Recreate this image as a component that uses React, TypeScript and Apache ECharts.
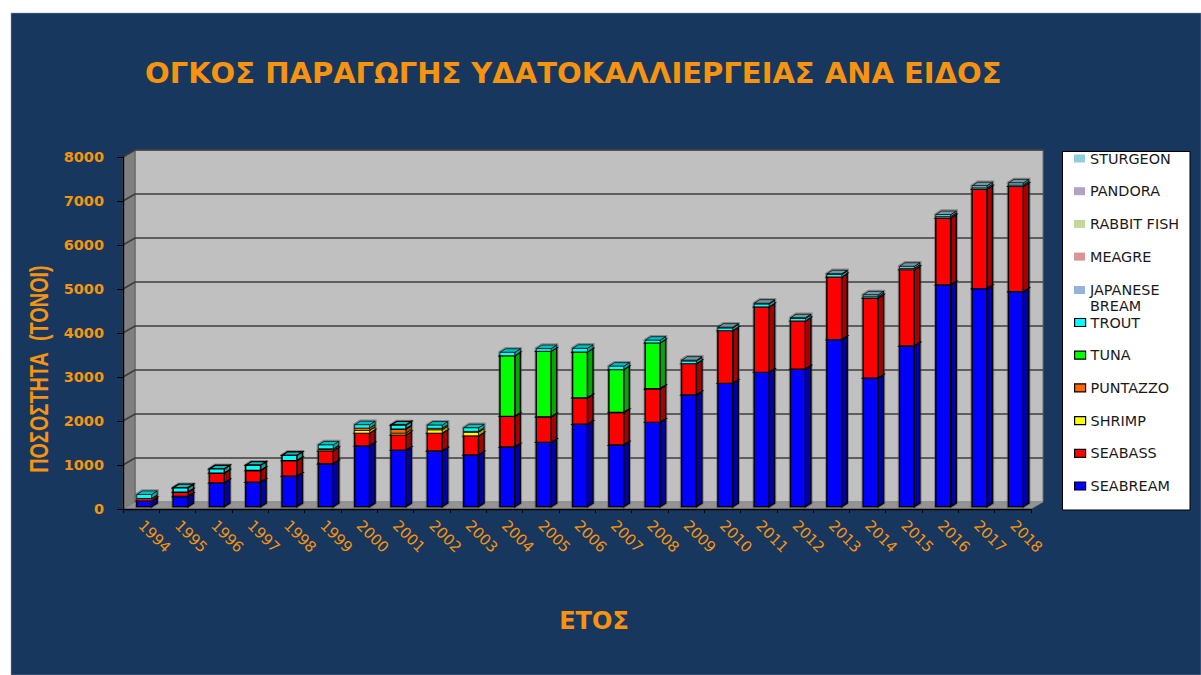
import React, { useEffect, useRef } from "react";
import * as echarts from "echarts";

const years = ["1994","1995","1996","1997","1998","1999","2000","2001","2002","2003","2004","2005","2006","2007","2008","2009","2010","2011","2012","2013","2014","2015","2016","2017","2018"];
const seabream = [130,230,540,555,690,975,1380,1280,1265,1175,1355,1460,1870,1400,1915,2540,2800,3050,3125,3795,2920,3650,5040,4955,4885];
const seabass = [55,100,220,265,355,295,290,350,405,435,695,580,600,740,765,710,1200,1490,1095,1425,1820,1735,1520,2260,2395];
const shrimp = [0,0,0,0,0,30,60,40,75,80,0,0,0,0,0,0,0,0,0,0,0,0,0,0,0];
const puntazzo = [0,0,0,0,0,15,55,90,35,20,0,0,0,0,0,0,0,0,0,0,0,0,0,0,0];
const tuna = [0,0,0,0,0,0,0,0,0,0,1380,1490,1045,975,1040,0,0,0,0,0,0,0,0,0,0];
const trout = [90,100,97,120,120,85,75,95,70,80,75,60,80,75,60,60,60,65,55,55,30,30,30,30,30];
const japaneseBream = new Array(25).fill(0);
const meagre = new Array(25).fill(0);
const rabbitFish = new Array(25).fill(0);
const pandora = new Array(25).fill(0);
const sturgeon = [0,0,0,0,0,0,0,0,0,0,0,0,0,0,0,15,15,15,15,15,40,45,45,45,45];
const yTicks = [0,1000,2000,3000,4000,5000,6000,7000,8000];

const speciesList = [
  { name: "SEABREAM", values: seabream, color: "#0000FF", side: "#0000A8", top: "#0000C0", strong: true },
  { name: "SEABASS", values: seabass, color: "#FF0000", side: "#A80000", top: "#C00000", strong: true },
  { name: "SHRIMP", values: shrimp, color: "#FFFF00", side: "#A8A800", top: "#C0C000", strong: true },
  { name: "PUNTAZZO", values: puntazzo, color: "#FF6600", side: "#A84400", top: "#C04C00", strong: true },
  { name: "TUNA", values: tuna, color: "#00FF00", side: "#00A800", top: "#00C000", strong: true },
  { name: "TROUT", values: trout, color: "#00FFFF", side: "#00A8A8", top: "#00BFBF", strong: true },
  { name: "JAPANESE BREAM", values: japaneseBream, color: "#95B3D7", side: "#627690", top: "#708AA2", strong: false },
  { name: "MEAGRE", values: meagre, color: "#D99694", side: "#8F6362", top: "#A3716F", strong: false },
  { name: "RABBIT FISH", values: rabbitFish, color: "#C3D69B", side: "#818D66", top: "#92A174", strong: false },
  { name: "PANDORA", values: pandora, color: "#B3A2C7", side: "#766B83", top: "#867A95", strong: false },
  { name: "STURGEON", values: sturgeon, color: "#92CDDC", side: "#608791", top: "#6E9AA6", strong: false },
];

const ORANGE = "#F7930F";
const DEPTH_X = 12;
const DEPTH_Y = -7;
const BAR_OFF_X = 3;
const BAR_OFF_Y = -2.4;
const BAR_HALF = 7.4;
const BAR_DX = 5.6;
const BAR_DY = -3.6;
const STROKE = "#000000";
const LINE = 1.4;
const THIN_LINE = 0.7;

const poly = (points: number[][], fill: string, stroke = STROKE, lineWidth = LINE) => ({
  type: "polygon",
  shape: { points },
  style: { fill, stroke, lineWidth, lineJoin: "miter" },
});

const renderWalls = (params: any, api: any) => {
  const cs = params.coordSys;
  const tick = api.value(1);
  const y = api.coord([0, tick])[1];
  const l = cs.x, r = cs.x + cs.width, b = cs.y + cs.height, t = cs.y;
  const children: any[] = [];
  if (params.dataIndex === 0) {
    children.push(poly([[l + DEPTH_X, t + DEPTH_Y], [r + DEPTH_X, t + DEPTH_Y], [r + DEPTH_X, b + DEPTH_Y], [l + DEPTH_X, b + DEPTH_Y]], "#C0C0C0", "#6e6e6e", 1));
    children.push(poly([[l, t], [l + DEPTH_X, t + DEPTH_Y], [l + DEPTH_X, b + DEPTH_Y], [l, b]], "#808080", "#606060", 1));
    children.push(poly([[l, b], [l + DEPTH_X, b + DEPTH_Y], [r + DEPTH_X, b + DEPTH_Y], [r, b]], "#949494", "#8a8a8a", 0.5));
  }
  if (tick > 0) {
    children.push({
      type: "polyline",
      shape: { points: [[l, y], [l + DEPTH_X, y + DEPTH_Y], [r + DEPTH_X, y + DEPTH_Y]] },
      style: { fill: "none", stroke: "#3c3c3c", lineWidth: 1.6 },
    });
  }
  return { type: "group", children };
};

const boxFaces = (x: number, yLow: number, yHigh: number, sp: { color: string; side: string; top: string }) => {
  const l = x - BAR_HALF + BAR_OFF_X;
  const r = x + BAR_HALF + BAR_OFF_X;
  const b = yLow + BAR_OFF_Y;
  const t = yHigh + BAR_OFF_Y;
  const lw = b - t < 4 ? THIN_LINE : LINE;
  return [
    poly([[r, b], [r + BAR_DX, b + BAR_DY], [r + BAR_DX, t + BAR_DY], [r, t]], sp.side, STROKE, lw),
    poly([[l, t], [l + BAR_DX, t + BAR_DY], [r + BAR_DX, t + BAR_DY], [r, t]], sp.top, STROKE, lw),
    poly([[l, b], [r, b], [r, t], [l, t]], sp.color, STROKE, lw),
  ];
};

const renderHalo = (_: any, api: any) => {
  const idx = api.value(0);
  const [x, yLow] = api.coord([idx, 0]);
  const yHigh = api.coord([idx, api.value(1)])[1];
  const l = x - BAR_HALF + BAR_OFF_X;
  const r = x + BAR_HALF + BAR_OFF_X;
  const b = yLow + BAR_OFF_Y;
  const t = yHigh + BAR_OFF_Y;
  return {
    type: "polygon",
    shape: { points: [[l, b], [r, b], [r + BAR_DX, b + BAR_DY], [r + BAR_DX, t + BAR_DY], [l + BAR_DX, t + BAR_DY], [l, t]] },
    style: { fill: "none", stroke: "rgba(70,70,70,0.45)", lineWidth: 3.4 },
  };
};

const makeRender = (sp: any) => (_: any, api: any) => {
  const val = api.value(1);
  if (!val) return null;
  const idx = api.value(0);
  const base = api.value(2);
  const [x, yLow] = api.coord([idx, base]);
  const yHigh = api.coord([idx, base + val])[1];
  return { type: "group", children: boxFaces(x, yLow, yHigh, sp) };
};

const cumulative = speciesList.reduce<number[][]>((acc, sp, k) => {
  const prev = k === 0 ? new Array(years.length).fill(0) : acc[k - 1].map((v, i) => v + speciesList[k - 1].values[i]);
  acc.push(prev);
  return acc;
}, []);
const totals = years.map((_, i) => speciesList.reduce((s, sp) => s + sp.values[i], 0));

const legendEntry = (sp: any) => ({
  name: sp.name,
  icon: "rect",
  itemStyle: sp.strong
    ? { color: sp.color, borderColor: "#000", borderWidth: 1.2 }
    : { color: sp.color, borderWidth: 0 },
});
const byName = (n: string) => speciesList.find((s) => s.name === n);
const legendBase = {
  orient: "vertical",
  left: 1074,
  padding: 0,
  itemWidth: 11,
  itemHeight: 8,
  itemGap: 16.7,
  selectedMode: false,
  textStyle: { color: "#1a1a1a", fontFamily: "DejaVu Sans", fontSize: 14.4, lineHeight: 16, padding: 0 },
};

export default function App() {
  const ref = useRef<HTMLDivElement>(null);
  useEffect(() => {
    const chart = echarts.init(ref.current!, undefined, { renderer: "svg", width: 1201, height: 675 });
    chart.setOption({
      animation: false,
      backgroundColor: "#FFFFFF",
      title: {
        text: "ΟΓΚΟΣ ΠΑΡΑΓΩΓΗΣ ΥΔΑΤΟΚΑΛΛΙΕΡΓΕΙΑΣ ΑΝΑ ΕΙΔΟΣ",
        left: 145,
        top: 58,
        padding: 0,
        textStyle: { color: ORANGE, fontFamily: "DejaVu Sans", fontWeight: "bold", fontSize: 29 },
      },
      graphic: [
        { type: "rect", z: -1, shape: { x: 11, y: 13, width: 1190, height: 662 }, style: { fill: "#17375E", stroke: "#8c9bb0", lineWidth: 0.5 } },
        { type: "rect", z: 0, shape: { x: 1062.5, y: 151.5, width: 127.5, height: 358.5 }, style: { fill: "#FFFFFF", stroke: "#000", lineWidth: 1 } },
        {
          type: "text",
          z: 1,
          x: 40,
          y: 369,
          rotation: Math.PI / 2,
          scaleX: 0.795,
          style: {
            text: "ΠΟΣΟΣΤΗΤΑ  (ΤΟΝΟΙ)",
            fill: ORANGE,
            font: "bold 25px 'Liberation Sans'",
            align: "center",
            verticalAlign: "middle",
          },
        },
      ],
      grid: { left: 123, top: 157, width: 908, height: 352, containLabel: false },
      legend: [
        { ...legendBase, top: 150.5, data: ["STURGEON", "PANDORA", "RABBIT FISH", "MEAGRE"].map((n) => legendEntry(byName(n))) },
        { ...legendBase, top: 266, data: ["JAPANESE BREAM"].map((n) => legendEntry(byName(n))), formatter: () => "\nJAPANESE\nBREAM" },
        { ...legendBase, top: 314.5, data: ["TROUT", "TUNA", "PUNTAZZO", "SHRIMP", "SEABASS", "SEABREAM"].map((n) => legendEntry(byName(n))) },
      ],
      xAxis: {
        type: "category",
        data: years,
        z: 5,
        name: "ΕΤΟΣ",
        nameLocation: "middle",
        nameGap: 100,
        nameTextStyle: { color: ORANGE, fontFamily: "DejaVu Sans", fontWeight: "bold", fontSize: 24, padding: [0, 0, 0, 34] },
        axisLine: { lineStyle: { color: "#000", width: 1.4 } },
        axisTick: { show: true, alignWithLabel: false, length: 4, lineStyle: { color: "#000", width: 1 } },
        axisLabel: { color: ORANGE, rotate: -45, interval: 0, margin: 14, fontFamily: "DejaVu Sans", fontSize: 15 },
        splitLine: { show: false },
      },
      yAxis: {
        type: "value",
        min: 0,
        max: 8000,
        interval: 1000,
        z: 5,
        axisLine: { show: true, lineStyle: { color: "#000", width: 1.4 } },
        axisTick: { show: true, length: 6, lineStyle: { color: "#000", width: 1 } },
        axisLabel: { color: ORANGE, margin: 19, fontFamily: "DejaVu Sans", fontWeight: "bold", fontSize: 14.5, formatter: (v: number) => String(v) },
        splitLine: { show: false },
      },
      series: [
        {
          type: "custom",
          name: "walls",
          z: 1,
          silent: true,
          renderItem: renderWalls,
          data: yTicks.map((t) => [0, t]),
          encode: { x: 0, y: 1 },
        },
        {
          type: "custom",
          name: "halo",
          z: 2,
          silent: true,
          renderItem: renderHalo,
          data: totals.map((t, i) => [i, t]),
          encode: { x: 0, y: 1 },
        },
        ...speciesList.map((sp, k) => ({
          type: "custom",
          name: sp.name,
          z: 3,
          renderItem: makeRender(sp),
          itemStyle: { color: sp.color },
          data: sp.values.map((v, i) => [i, v, cumulative[k][i]]),
          encode: { x: 0, y: 1 },
        })),
      ],
    });
    return () => chart.dispose();
  }, []);
  return <div ref={ref} style={{ position: "fixed", left: 0, top: 0, width: 1201, height: 675 }} />;
}
